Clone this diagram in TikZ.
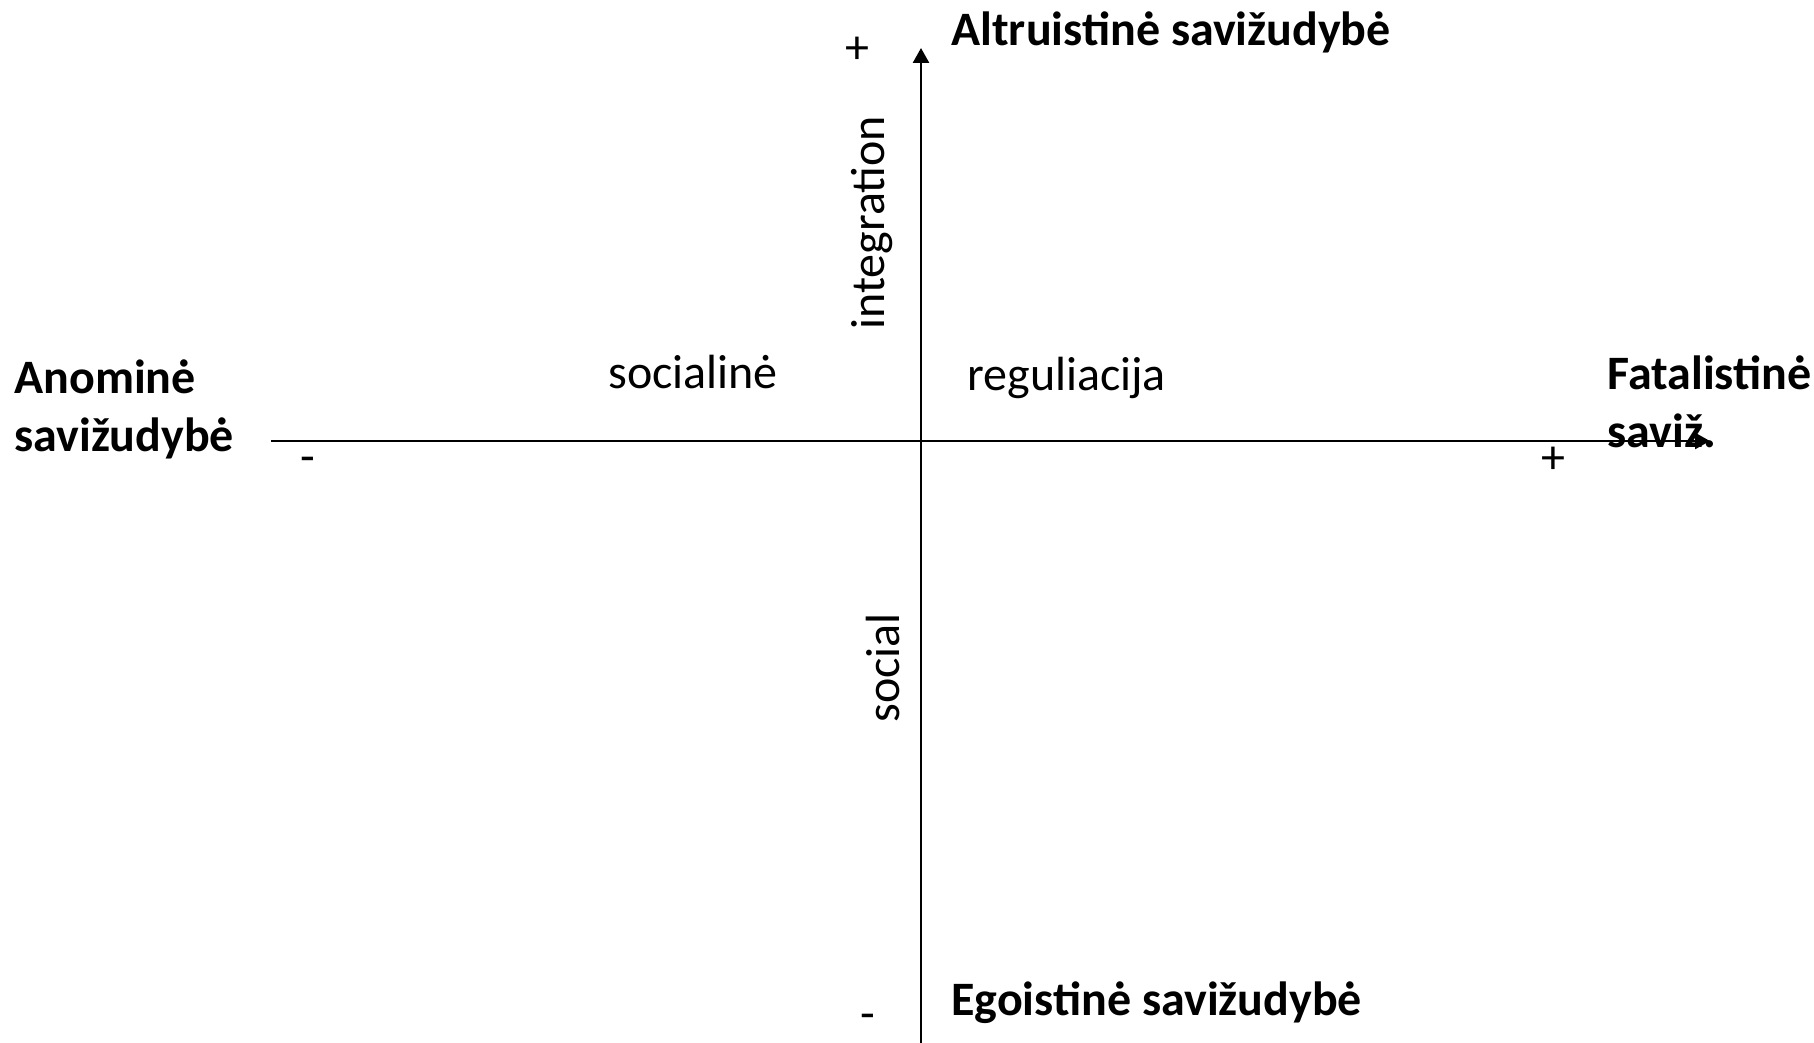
\documentclass[tikz,border=0pt]{standalone}
\usepackage{fontspec}
\setmainfont{Carlito}
\usetikzlibrary{arrows.meta,positioning}
\tikzstyle{axis} = [
    line width=1.3pt,
    -{Triangle[length=7.5pt,width=8pt]},
    draw=black
]
\tikzstyle{pole} = [
    inner sep=0pt,
    anchor=base west,
    align=left,
    font=\fontsize{24}{29}\selectfont\bfseries
]
\begin{document}
\begin{tikzpicture}[
                x=0.5pt, y=-0.5pt,
                word/.style={
                    inner sep=0pt,
                    font=\fontsize{24}{29}\selectfont
                },
                sign/.style={
                    inner sep=0pt,
                    font=\fontsize{24}{29}\selectfont
                }
            ]
                \useasboundingbox (0,0) rectangle (1814,1043);
                % axes
                \coordinate (L) at (271,441);
                \coordinate (R) at (1710,441);
                \coordinate (B) at (921,1043);
                \coordinate (T) at (921,48);
                \draw[axis] (L) -- (R);
                \draw[axis] (B) -- (T);
                % poles
                \node[pole] (altru) at (951,46) {Altruistinė savižudybė};
                \node[pole] (ego) at (951,1015) {Egoistinė savižudybė};
                \node[pole] (anom) at (14,451) {Anominė\\savižudybė};
                \node[pole] (fatal) at (1607,447) {Fatalistinė\\saviž.};
                % axis words
                \node[word, anchor=base west] (soc) at (608,388) {socialinė};
                \node[word, anchor=base west] (reg) at (967,390) {reguliacija};
                \node[word, rotate=90, anchor=base west] (integ) at (884,330) {integration};
                \node[word, rotate=90, anchor=base west] (social) at (899,723) {social};
                % signs
                \node[sign] (ptop) at (857,50) {+};
                \node[sign] (mbot) at (868,1022) {-};
                \node[sign] (mleft) at (308,465) {-};
                \node[sign] (pright) at (1553,460) {+};
            \end{tikzpicture}
\end{document}
